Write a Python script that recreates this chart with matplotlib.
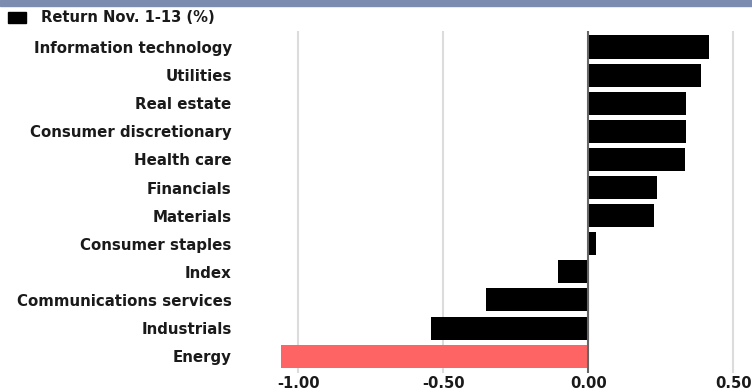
import numpy as np
import matplotlib.pyplot as plt
from matplotlib.patches import Rectangle

sectors = [
    "Information technology", "Utilities", "Real estate",
    "Consumer discretionary", "Health care", "Financials", "Materials",
    "Consumer staples", "Index", "Communications services", "Industrials",
    "Energy",
]
returns = [0.416, 0.388, 0.337, 0.337, 0.332, 0.237, 0.227,
           0.026, -0.105, -0.352, -0.543, -1.061]
highlight = "Energy"
xticks = [-1.0, -0.5, 0.0, 0.5]

plt.rcParams['font.family'] = ['DejaVu Sans']
txt = dict(fontsize=10.6, fontweight='bold', color='#1a1a1a')

fig = plt.figure(figsize=(7.52, 3.92), dpi=100)
ax = fig.add_axes([240 / 752, 1 - 373 / 392, 1 - 240 / 752, (373 - 31) / 392])

colors = ['#ff6464' if s == highlight else '#000000' for s in sectors]
y = np.arange(len(sectors))
ax.barh(y, returns, height=0.82, color=colors, zorder=2)

ax.set_ylim(len(sectors) - 1 + 0.6, -0.57)
ax.set_xlim(-1.201, 0.564)

ax.set_yticks(y)
ax.set_yticklabels(sectors, **{**txt, 'fontsize': 10.8})
ax.set_xticks(xticks)
ax.set_xticklabels([f"{v:.2f}" for v in xticks], **txt)
ax.tick_params(axis='y', length=0, pad=6)
ax.tick_params(axis='x', length=0, pad=2)

for v in xticks:
    if v == 0:
        ax.axvline(v, color='#666666', lw=1.5, zorder=3)
    else:
        ax.axvline(v, color='#dcdcdc', lw=1.5, zorder=1)

for sp in ax.spines.values():
    sp.set_visible(False)

# top band and legend
fig.patches.append(Rectangle((0, 1 - 6 / 392), 1, 6 / 392, transform=fig.transFigure,
                             color='#7b8cb0', zorder=5))
fig.patches.append(Rectangle((8 / 752, 1 - 23 / 392), 18 / 752, 11 / 392,
                             transform=fig.transFigure, color='#000000'))
fig.text(41 / 752, 1 - 17.5 / 392, "Return Nov. 1-13 (%)", va='center', ha='left', **txt)

fig.savefig("out.png", dpi=100)
